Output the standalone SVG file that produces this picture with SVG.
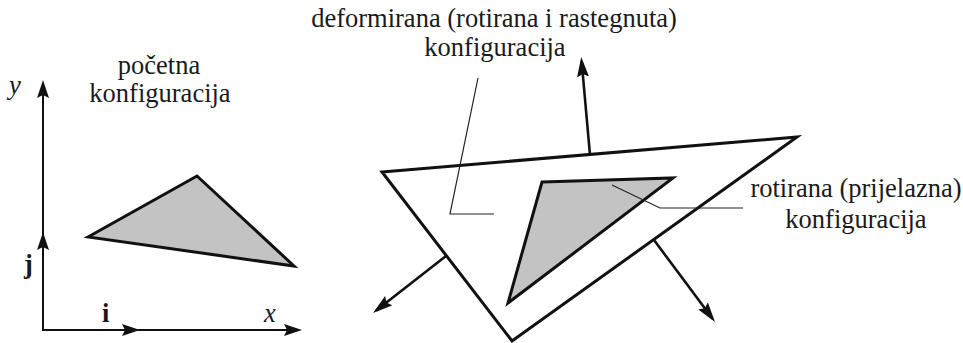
<svg xmlns="http://www.w3.org/2000/svg" width="963" height="343" viewBox="0 0 963 343">
<style>
text{font-family:"Liberation Serif","Times New Roman",Tinos,"Noto Serif","DejaVu Serif",FreeSerif,"Nimbus Roman",Times,serif;font-size:26.5px;fill:#1a1a1a}
.c{text-anchor:middle}
.it{font-style:italic}
.b{font-weight:bold}
.ax{stroke:#111;stroke-width:2;fill:none}
.ar{stroke:#111;stroke-width:2.6;fill:none}
.tri{stroke:#111;stroke-width:3;stroke-linejoin:miter}
.ld{stroke:#222;stroke-width:1.2;fill:none}
</style>
<defs>
<marker id="ah" viewBox="0 0 18 12" refX="14" refY="6" markerWidth="18" markerHeight="12" orient="auto" markerUnits="userSpaceOnUse">
<path d="M0,0 L18,6 L0,12 L3,6 z" fill="#111"/>
</marker>
<marker id="ah2" viewBox="0 0 20 12" refX="16" refY="6" markerWidth="20" markerHeight="12" orient="auto" markerUnits="userSpaceOnUse">
<path d="M0,0 L20,6 L0,12 L3,6 z" fill="#111"/>
</marker>
</defs>
<g id="axes">
<line class="ax" x1="43" y1="331" x2="43" y2="84" marker-end="url(#ah)"/>
<line class="ax" x1="42" y1="330" x2="298" y2="330" marker-end="url(#ah)"/>
<line class="ax" x1="43" y1="330" x2="43" y2="236" marker-end="url(#ah)"/>
<line class="ax" x1="43" y1="330" x2="136" y2="330" marker-end="url(#ah)"/>
<text class="it" x="9" y="94">y</text>
<text class="it" x="264" y="322">x</text>
<text class="b" x="24" y="273">j</text>
<text class="b" x="102" y="322">i</text>
</g>
<g id="initial">
<polygon class="tri" points="88,237 197,176 294,266" fill="#c3c3c3"/>
<text class="c" x="159" y="74">početna</text>
<text class="c" x="160" y="102">konfiguracija</text>
</g>
<g id="deformed">
<polygon class="tri" points="382,172 797,137 512,341" fill="#fff"/>
<text class="c" x="494" y="27">deformirana (rotirana i rastegnuta)</text>
<text class="c" x="495" y="56">konfiguracija</text>
</g>
<g id="rotated">
<polygon class="tri" points="542,182 673,178 508,303" fill="#c3c3c3"/>
<text class="c" x="856" y="197">rotirana (prijelazna)</text>
<text class="c" x="856" y="228">konfiguracija</text>
</g>
<g id="connectors">
<line class="ar" x1="590" y1="155" x2="581.6" y2="61" marker-end="url(#ah2)"/>
<line class="ar" x1="446" y1="256" x2="376.2" y2="310.5" marker-end="url(#ah2)"/>
<line class="ar" x1="654" y1="240" x2="712.6" y2="318.8" marker-end="url(#ah2)"/>
<polyline class="ld" points="478,78 450,214 494,214"/>
<polyline class="ld" points="612,185 660,208 743,208"/>
</g>
</svg>
